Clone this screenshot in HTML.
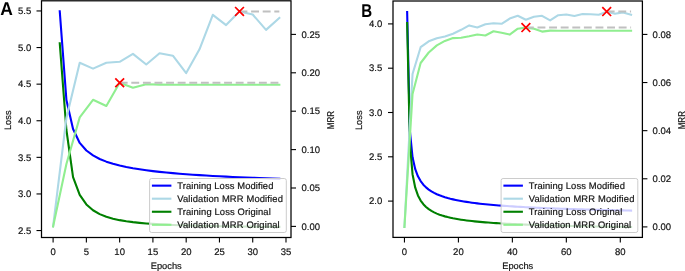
<!DOCTYPE html>
<html><head><meta charset="utf-8"><style>
html,body{margin:0;padding:0;background:#fff;width:685px;height:271px;overflow:hidden}
svg{display:block;will-change:transform;text-rendering:geometricPrecision}
</style></head><body>
<svg width="685" height="271" viewBox="0 0 685 271">
<rect width="685" height="271" fill="#fff"/>
<clipPath id="clipA"><rect x="41.5" y="0.8" width="249.5" height="236.7"/></clipPath>
<g clip-path="url(#clipA)">
<polyline points="59.75,11.3 66.41,100 73.06,128.95 79.72,142.93 86.37,150.5 93.02,155.43 99.68,158.95 106.33,161.63 112.99,163.77 119.64,165.51 126.29,166.97 132.95,168.22 139.6,169.3 146.26,170.25 152.91,171.1 159.56,171.85 166.22,172.53 172.87,173.15 179.53,173.71 186.18,174.23 192.83,174.71 199.49,175.15 206.14,175.56 212.8,175.94 219.45,176.3 226.1,176.63 232.76,176.95 239.41,177.25 246.07,177.53 252.72,177.79 259.37,178.05 266.03,178.29 272.68,178.52 279.34,178.73" fill="none" stroke="#0000ff" stroke-width="2.1" stroke-linejoin="round" stroke-linecap="square" />
<polyline points="59.75,43.3 66.41,130 73.06,177.07 79.72,194.8 86.37,204.42 93.02,210.27 99.68,214.11 106.33,216.77 112.99,218.71 119.64,220.16 126.29,221.27 132.95,222.15 139.6,222.86 146.26,223.44 152.91,223.92 159.56,224.32 166.22,224.66 172.87,224.95 179.53,225.21 186.18,225.42 192.83,225.62 199.49,225.78 206.14,225.93 212.8,226.07 219.45,226.18 226.1,226.29 232.76,226.39 239.41,226.47 246.07,226.55 252.72,226.62 259.37,226.69 266.03,226.75 272.68,226.81 279.34,226.86" fill="none" stroke="#008000" stroke-width="2.1" stroke-linejoin="round" stroke-linecap="square" />
<polyline points="53.1,226.4 66.41,118 79.72,62.8 93.02,68.6 106.33,62.7 119.64,61.8 132.95,53.9 146.26,64.5 159.56,53.2 172.87,55.7 186.18,73.1 199.49,49.3 212.8,14.8 226.1,25.1 239.41,11.4 252.72,14.5 266.03,29.9 279.34,18" fill="none" stroke="#add8e6" stroke-width="2.1" stroke-linejoin="round" stroke-linecap="square" />
<line x1="239.5" y1="11.4" x2="279.34" y2="11.4" stroke="#c0c0c0" stroke-width="2.0" stroke-dasharray="7.9 3.7"/>
<polyline points="53.1,226.4 66.41,164 79.72,117.4 93.02,99.8 106.33,106 119.64,82.7 132.95,87.7 146.26,84.3 159.56,84.6 172.87,84.8 186.18,84.8 199.49,84.8 212.8,84.8 226.1,84.8 239.41,84.8 252.72,84.8 266.03,84.8 279.34,84.8" fill="none" stroke="#90ee90" stroke-width="2.1" stroke-linejoin="round" stroke-linecap="square" />
<line x1="119.7" y1="82.7" x2="279.34" y2="82.7" stroke="#c0c0c0" stroke-width="2.0" stroke-dasharray="7.9 3.7"/>
<path d="M235.1,7L243.9,15.8M235.1,15.8L243.9,7" stroke="#ff0000" stroke-width="1.75" fill="none"/>
<path d="M115.3,78.3L124.1,87.1M115.3,87.1L124.1,78.3" stroke="#ff0000" stroke-width="1.75" fill="none"/>
</g>
<rect x="149.6" y="178.5" width="136.7" height="54.0" rx="2" ry="2" fill="#ffffff" fill-opacity="0.8" stroke="#cccccc" stroke-width="1"/>
<line x1="151.9" y1="185.65" x2="171.4" y2="185.65" stroke="#0000ff" stroke-width="2.1"/>
<text x="177.2" y="188.75" font-family="Liberation Sans, sans-serif" stroke="#111" stroke-width="0.18" font-size="9.4" fill="#111" textLength="96.2">Training Loss Modified</text>
<line x1="151.9" y1="198.7" x2="171.4" y2="198.7" stroke="#add8e6" stroke-width="2.1"/>
<text x="177.2" y="201.8" font-family="Liberation Sans, sans-serif" stroke="#111" stroke-width="0.18" font-size="9.4" fill="#111" textLength="105.7">Validation MRR Modified</text>
<line x1="151.9" y1="211.75" x2="171.4" y2="211.75" stroke="#008000" stroke-width="2.1"/>
<text x="177.2" y="214.85" font-family="Liberation Sans, sans-serif" stroke="#111" stroke-width="0.18" font-size="9.4" fill="#111" textLength="93.6">Training Loss Original</text>
<line x1="151.9" y1="224.8" x2="171.4" y2="224.8" stroke="#90ee90" stroke-width="2.1"/>
<text x="177.2" y="227.9" font-family="Liberation Sans, sans-serif" stroke="#111" stroke-width="0.18" font-size="9.4" fill="#111" textLength="102.5">Validation MRR Original</text>
<rect x="41.5" y="0.8" width="249.5" height="236.7" fill="none" stroke="#000" stroke-width="1.25"/>
<line x1="36.5" y1="230.55" x2="41.5" y2="230.55" stroke="#000" stroke-width="1.1"/>
<text x="31.2" y="233.8" font-family="Liberation Sans, sans-serif" stroke="#111" stroke-width="0.18" font-size="9.5" fill="#111" text-anchor="end">2.5</text>
<line x1="36.5" y1="193.95" x2="41.5" y2="193.95" stroke="#000" stroke-width="1.1"/>
<text x="31.2" y="197.2" font-family="Liberation Sans, sans-serif" stroke="#111" stroke-width="0.18" font-size="9.5" fill="#111" text-anchor="end">3.0</text>
<line x1="36.5" y1="157.35" x2="41.5" y2="157.35" stroke="#000" stroke-width="1.1"/>
<text x="31.2" y="160.6" font-family="Liberation Sans, sans-serif" stroke="#111" stroke-width="0.18" font-size="9.5" fill="#111" text-anchor="end">3.5</text>
<line x1="36.5" y1="120.75" x2="41.5" y2="120.75" stroke="#000" stroke-width="1.1"/>
<text x="31.2" y="124" font-family="Liberation Sans, sans-serif" stroke="#111" stroke-width="0.18" font-size="9.5" fill="#111" text-anchor="end">4.0</text>
<line x1="36.5" y1="84.15" x2="41.5" y2="84.15" stroke="#000" stroke-width="1.1"/>
<text x="31.2" y="87.4" font-family="Liberation Sans, sans-serif" stroke="#111" stroke-width="0.18" font-size="9.5" fill="#111" text-anchor="end">4.5</text>
<line x1="36.5" y1="47.55" x2="41.5" y2="47.55" stroke="#000" stroke-width="1.1"/>
<text x="31.2" y="50.8" font-family="Liberation Sans, sans-serif" stroke="#111" stroke-width="0.18" font-size="9.5" fill="#111" text-anchor="end">5.0</text>
<line x1="36.5" y1="10.95" x2="41.5" y2="10.95" stroke="#000" stroke-width="1.1"/>
<text x="31.2" y="14.2" font-family="Liberation Sans, sans-serif" stroke="#111" stroke-width="0.18" font-size="9.5" fill="#111" text-anchor="end">5.5</text>
<line x1="291.0" y1="226.4" x2="296" y2="226.4" stroke="#000" stroke-width="1.1"/>
<text x="301.5" y="229.65" font-family="Liberation Sans, sans-serif" stroke="#111" stroke-width="0.18" font-size="9.5" fill="#111">0.00</text>
<line x1="291.0" y1="188" x2="296" y2="188" stroke="#000" stroke-width="1.1"/>
<text x="301.5" y="191.25" font-family="Liberation Sans, sans-serif" stroke="#111" stroke-width="0.18" font-size="9.5" fill="#111">0.05</text>
<line x1="291.0" y1="149.6" x2="296" y2="149.6" stroke="#000" stroke-width="1.1"/>
<text x="301.5" y="152.85" font-family="Liberation Sans, sans-serif" stroke="#111" stroke-width="0.18" font-size="9.5" fill="#111">0.10</text>
<line x1="291.0" y1="111.2" x2="296" y2="111.2" stroke="#000" stroke-width="1.1"/>
<text x="301.5" y="114.45" font-family="Liberation Sans, sans-serif" stroke="#111" stroke-width="0.18" font-size="9.5" fill="#111">0.15</text>
<line x1="291.0" y1="72.8" x2="296" y2="72.8" stroke="#000" stroke-width="1.1"/>
<text x="301.5" y="76.05" font-family="Liberation Sans, sans-serif" stroke="#111" stroke-width="0.18" font-size="9.5" fill="#111">0.20</text>
<line x1="291.0" y1="34.4" x2="296" y2="34.4" stroke="#000" stroke-width="1.1"/>
<text x="301.5" y="37.65" font-family="Liberation Sans, sans-serif" stroke="#111" stroke-width="0.18" font-size="9.5" fill="#111">0.25</text>
<line x1="53.1" y1="237.5" x2="53.1" y2="242.5" stroke="#000" stroke-width="1.1"/>
<text x="53.1" y="254.6" font-family="Liberation Sans, sans-serif" stroke="#111" stroke-width="0.18" font-size="9.5" fill="#111" text-anchor="middle">0</text>
<line x1="86.37" y1="237.5" x2="86.37" y2="242.5" stroke="#000" stroke-width="1.1"/>
<text x="86.37" y="254.6" font-family="Liberation Sans, sans-serif" stroke="#111" stroke-width="0.18" font-size="9.5" fill="#111" text-anchor="middle">5</text>
<line x1="119.64" y1="237.5" x2="119.64" y2="242.5" stroke="#000" stroke-width="1.1"/>
<text x="119.64" y="254.6" font-family="Liberation Sans, sans-serif" stroke="#111" stroke-width="0.18" font-size="9.5" fill="#111" text-anchor="middle">10</text>
<line x1="152.91" y1="237.5" x2="152.91" y2="242.5" stroke="#000" stroke-width="1.1"/>
<text x="152.91" y="254.6" font-family="Liberation Sans, sans-serif" stroke="#111" stroke-width="0.18" font-size="9.5" fill="#111" text-anchor="middle">15</text>
<line x1="186.18" y1="237.5" x2="186.18" y2="242.5" stroke="#000" stroke-width="1.1"/>
<text x="186.18" y="254.6" font-family="Liberation Sans, sans-serif" stroke="#111" stroke-width="0.18" font-size="9.5" fill="#111" text-anchor="middle">20</text>
<line x1="219.45" y1="237.5" x2="219.45" y2="242.5" stroke="#000" stroke-width="1.1"/>
<text x="219.45" y="254.6" font-family="Liberation Sans, sans-serif" stroke="#111" stroke-width="0.18" font-size="9.5" fill="#111" text-anchor="middle">25</text>
<line x1="252.72" y1="237.5" x2="252.72" y2="242.5" stroke="#000" stroke-width="1.1"/>
<text x="252.72" y="254.6" font-family="Liberation Sans, sans-serif" stroke="#111" stroke-width="0.18" font-size="9.5" fill="#111" text-anchor="middle">30</text>
<line x1="285.99" y1="237.5" x2="285.99" y2="242.5" stroke="#000" stroke-width="1.1"/>
<text x="285.99" y="254.6" font-family="Liberation Sans, sans-serif" stroke="#111" stroke-width="0.18" font-size="9.5" fill="#111" text-anchor="middle">35</text>
<text x="166.25" y="268.6" font-family="Liberation Sans, sans-serif" stroke="#111" stroke-width="0.18" font-size="9.3" fill="#111" text-anchor="middle">Epochs</text>
<text transform="translate(10.5,120.25) rotate(-90)" font-family="Liberation Sans, sans-serif" stroke="#111" stroke-width="0.18" font-size="9.3" fill="#111" text-anchor="middle">Loss</text>
<text transform="translate(334.3,120.15) rotate(-90)" font-family="Liberation Sans, sans-serif" stroke="#111" stroke-width="0.18" font-size="9.9" fill="#111" text-anchor="middle" textLength="18.2" lengthAdjust="spacingAndGlyphs">MRR</text>
<text x="0.2" y="14.8" font-family="Liberation Sans, sans-serif" font-weight="bold" font-size="18.5" fill="#000" textLength="12.6" lengthAdjust="spacingAndGlyphs">A</text>
<clipPath id="clipB"><rect x="393.0" y="1.0" width="249.39999999999998" height="236.4"/></clipPath>
<g clip-path="url(#clipB)">
<polyline points="407.15,12 409.85,130.48 412.54,157.27 415.24,169.21 417.94,176.3 420.64,181.11 423.34,184.65 426.03,187.38 428.73,189.57 431.43,191.38 434.13,192.9 436.83,194.2 439.52,195.34 442.22,196.33 444.92,197.22 447.62,198.01 450.32,198.73 453.01,199.38 455.71,199.97 458.41,200.52 461.11,201.02 463.81,201.48 466.5,201.91 469.2,202.32 471.9,202.69 474.6,203.04 477.3,203.38 479.99,203.69 482.69,203.98 485.39,204.26 488.09,204.53 490.79,204.78 493.48,205.02 496.18,205.25 498.88,205.46 501.58,205.67 504.28,205.87 506.97,206.06 509.67,206.24 512.37,206.42 515.07,206.59 517.77,206.75 520.46,206.91 523.16,207.06 525.86,207.2 528.56,207.34 531.26,207.48 533.95,207.61 536.65,207.73 539.35,207.86 542.05,207.98 544.75,208.09 547.44,208.2 550.14,208.31 552.84,208.42 555.54,208.52 558.24,208.62 560.93,208.72 563.63,208.81 566.33,208.9 569.03,208.99 571.73,209.08 574.42,209.16 577.12,209.25 579.82,209.33 582.52,209.41 585.22,209.48 587.91,209.56 590.61,209.63 593.31,209.7 596.01,209.78 598.71,209.84 601.4,209.91 604.1,209.98 606.8,210.04 609.5,210.1 612.2,210.17 614.89,210.23 617.59,210.29 620.29,210.34 622.99,210.4 625.69,210.46 628.38,210.51 631.08,210.57" fill="none" stroke="#0000ff" stroke-width="2.1" stroke-linejoin="round" stroke-linecap="square" />
<polyline points="407.15,23 409.85,143.01 412.54,174.2 415.24,187.72 417.94,195.47 420.64,200.59 423.34,204.24 426.03,207 428.73,209.17 431.43,210.92 434.13,212.38 436.83,213.61 439.52,214.66 442.22,215.57 444.92,216.37 447.62,217.08 450.32,217.71 453.01,218.28 455.71,218.79 458.41,219.26 461.11,219.68 463.81,220.08 466.5,220.44 469.2,220.77 471.9,221.08 474.6,221.37 477.3,221.64 479.99,221.89 482.69,222.13 485.39,222.35 488.09,222.56 490.79,222.76 493.48,222.95 496.18,223.12 498.88,223.29 501.58,223.45 504.28,223.61 506.97,223.75 509.67,223.89 512.37,224.02 515.07,224.15 517.77,224.27 520.46,224.39 523.16,224.5 525.86,224.61 528.56,224.71 531.26,224.81 533.95,224.91 536.65,225 539.35,225.09 542.05,225.18 544.75,225.26 547.44,225.34 550.14,225.42 552.84,225.49 555.54,225.56 558.24,225.64 560.93,225.7 563.63,225.77 566.33,225.84 569.03,225.9 571.73,225.96 574.42,226.02 577.12,226.08 579.82,226.13 582.52,226.19 585.22,226.24 587.91,226.29 590.61,226.34 593.31,226.39 596.01,226.44 598.71,226.49 601.4,226.53 604.1,226.58 606.8,226.62 609.5,226.66 612.2,226.7 614.89,226.74 617.59,226.78 620.29,226.82 622.99,226.86 625.69,226.9 628.38,226.94 631.08,226.97" fill="none" stroke="#008000" stroke-width="2.1" stroke-linejoin="round" stroke-linecap="square" />
<polyline points="404.45,226.9 412.54,74 420.64,47.2 428.73,41.3 436.83,38.3 444.92,36.5 453.01,33.8 461.11,29.8 469.2,25.4 477.3,27.4 485.39,24.2 493.48,23.2 501.58,23.8 509.67,18.6 517.77,15.8 525.86,19.7 533.95,16.8 542.05,15.8 550.14,20.4 558.24,15.2 566.33,14.5 574.42,16 582.52,14 590.61,14.3 598.71,14.7 606.8,11.7 614.89,13.8 622.99,12.4 631.08,14.8" fill="none" stroke="#add8e6" stroke-width="2.1" stroke-linejoin="round" stroke-linecap="square" />
<line x1="606.7" y1="11.6" x2="631.08" y2="11.6" stroke="#c0c0c0" stroke-width="2.0" stroke-dasharray="7.9 3.7"/>
<polyline points="404.45,226.9 412.54,94 420.64,63 428.73,52.5 436.83,45.4 444.92,40.9 453.01,38.1 461.11,37.7 469.2,36.3 477.3,34.5 485.39,35.5 493.48,31.3 501.58,32.8 509.67,34.6 517.77,28.7 525.86,27.6 533.95,28.8 542.05,31.6 550.14,30.6 558.24,30.7 566.33,30.7 574.42,30.7 582.52,30.7 590.61,30.7 598.71,30.7 606.8,30.7 614.89,30.7 622.99,30.7 631.08,30.7" fill="none" stroke="#90ee90" stroke-width="2.1" stroke-linejoin="round" stroke-linecap="square" />
<line x1="525.9" y1="27.6" x2="631.08" y2="27.6" stroke="#c0c0c0" stroke-width="2.0" stroke-dasharray="7.9 3.7"/>
<path d="M602.3,7.2L611.1,16M602.3,16L611.1,7.2" stroke="#ff0000" stroke-width="1.75" fill="none"/>
<path d="M521.5,23.2L530.3,32M521.5,32L530.3,23.2" stroke="#ff0000" stroke-width="1.75" fill="none"/>
</g>
<rect x="501.1" y="178.5" width="136.7" height="54.0" rx="2" ry="2" fill="#ffffff" fill-opacity="0.8" stroke="#cccccc" stroke-width="1"/>
<line x1="503.4" y1="185.65" x2="522.9" y2="185.65" stroke="#0000ff" stroke-width="2.1"/>
<text x="528.7" y="188.75" font-family="Liberation Sans, sans-serif" stroke="#111" stroke-width="0.18" font-size="9.4" fill="#111" textLength="96.2">Training Loss Modified</text>
<line x1="503.4" y1="198.7" x2="522.9" y2="198.7" stroke="#add8e6" stroke-width="2.1"/>
<text x="528.7" y="201.8" font-family="Liberation Sans, sans-serif" stroke="#111" stroke-width="0.18" font-size="9.4" fill="#111" textLength="105.7">Validation MRR Modified</text>
<line x1="503.4" y1="211.75" x2="522.9" y2="211.75" stroke="#008000" stroke-width="2.1"/>
<text x="528.7" y="214.85" font-family="Liberation Sans, sans-serif" stroke="#111" stroke-width="0.18" font-size="9.4" fill="#111" textLength="93.6">Training Loss Original</text>
<line x1="503.4" y1="224.8" x2="522.9" y2="224.8" stroke="#90ee90" stroke-width="2.1"/>
<text x="528.7" y="227.9" font-family="Liberation Sans, sans-serif" stroke="#111" stroke-width="0.18" font-size="9.4" fill="#111" textLength="102.5">Validation MRR Original</text>
<rect x="393.0" y="1.0" width="249.4" height="236.4" fill="none" stroke="#000" stroke-width="1.25"/>
<line x1="388" y1="201.1" x2="393.0" y2="201.1" stroke="#000" stroke-width="1.1"/>
<text x="382.3" y="204.35" font-family="Liberation Sans, sans-serif" stroke="#111" stroke-width="0.18" font-size="9.5" fill="#111" text-anchor="end">2.0</text>
<line x1="388" y1="156.8" x2="393.0" y2="156.8" stroke="#000" stroke-width="1.1"/>
<text x="382.3" y="160.05" font-family="Liberation Sans, sans-serif" stroke="#111" stroke-width="0.18" font-size="9.5" fill="#111" text-anchor="end">2.5</text>
<line x1="388" y1="112.5" x2="393.0" y2="112.5" stroke="#000" stroke-width="1.1"/>
<text x="382.3" y="115.75" font-family="Liberation Sans, sans-serif" stroke="#111" stroke-width="0.18" font-size="9.5" fill="#111" text-anchor="end">3.0</text>
<line x1="388" y1="68.2" x2="393.0" y2="68.2" stroke="#000" stroke-width="1.1"/>
<text x="382.3" y="71.45" font-family="Liberation Sans, sans-serif" stroke="#111" stroke-width="0.18" font-size="9.5" fill="#111" text-anchor="end">3.5</text>
<line x1="388" y1="23.9" x2="393.0" y2="23.9" stroke="#000" stroke-width="1.1"/>
<text x="382.3" y="27.15" font-family="Liberation Sans, sans-serif" stroke="#111" stroke-width="0.18" font-size="9.5" fill="#111" text-anchor="end">4.0</text>
<line x1="642.4" y1="226.9" x2="647.4" y2="226.9" stroke="#000" stroke-width="1.1"/>
<text x="652.6" y="230.15" font-family="Liberation Sans, sans-serif" stroke="#111" stroke-width="0.18" font-size="9.5" fill="#111">0.00</text>
<line x1="642.4" y1="178.78" x2="647.4" y2="178.78" stroke="#000" stroke-width="1.1"/>
<text x="652.6" y="182.03" font-family="Liberation Sans, sans-serif" stroke="#111" stroke-width="0.18" font-size="9.5" fill="#111">0.02</text>
<line x1="642.4" y1="130.66" x2="647.4" y2="130.66" stroke="#000" stroke-width="1.1"/>
<text x="652.6" y="133.91" font-family="Liberation Sans, sans-serif" stroke="#111" stroke-width="0.18" font-size="9.5" fill="#111">0.04</text>
<line x1="642.4" y1="82.54" x2="647.4" y2="82.54" stroke="#000" stroke-width="1.1"/>
<text x="652.6" y="85.79" font-family="Liberation Sans, sans-serif" stroke="#111" stroke-width="0.18" font-size="9.5" fill="#111">0.06</text>
<line x1="642.4" y1="34.42" x2="647.4" y2="34.42" stroke="#000" stroke-width="1.1"/>
<text x="652.6" y="37.67" font-family="Liberation Sans, sans-serif" stroke="#111" stroke-width="0.18" font-size="9.5" fill="#111">0.08</text>
<line x1="404.45" y1="237.4" x2="404.45" y2="242.4" stroke="#000" stroke-width="1.1"/>
<text x="404.45" y="254.6" font-family="Liberation Sans, sans-serif" stroke="#111" stroke-width="0.18" font-size="9.5" fill="#111" text-anchor="middle">0</text>
<line x1="458.41" y1="237.4" x2="458.41" y2="242.4" stroke="#000" stroke-width="1.1"/>
<text x="458.41" y="254.6" font-family="Liberation Sans, sans-serif" stroke="#111" stroke-width="0.18" font-size="9.5" fill="#111" text-anchor="middle">20</text>
<line x1="512.37" y1="237.4" x2="512.37" y2="242.4" stroke="#000" stroke-width="1.1"/>
<text x="512.37" y="254.6" font-family="Liberation Sans, sans-serif" stroke="#111" stroke-width="0.18" font-size="9.5" fill="#111" text-anchor="middle">40</text>
<line x1="566.33" y1="237.4" x2="566.33" y2="242.4" stroke="#000" stroke-width="1.1"/>
<text x="566.33" y="254.6" font-family="Liberation Sans, sans-serif" stroke="#111" stroke-width="0.18" font-size="9.5" fill="#111" text-anchor="middle">60</text>
<line x1="620.29" y1="237.4" x2="620.29" y2="242.4" stroke="#000" stroke-width="1.1"/>
<text x="620.29" y="254.6" font-family="Liberation Sans, sans-serif" stroke="#111" stroke-width="0.18" font-size="9.5" fill="#111" text-anchor="middle">80</text>
<text x="517.7" y="268.6" font-family="Liberation Sans, sans-serif" stroke="#111" stroke-width="0.18" font-size="9.3" fill="#111" text-anchor="middle">Epochs</text>
<text transform="translate(361.6,120.3) rotate(-90)" font-family="Liberation Sans, sans-serif" stroke="#111" stroke-width="0.18" font-size="9.3" fill="#111" text-anchor="middle">Loss</text>
<text transform="translate(685,120.2) rotate(-90)" font-family="Liberation Sans, sans-serif" stroke="#111" stroke-width="0.18" font-size="9.9" fill="#111" text-anchor="middle" textLength="18.2" lengthAdjust="spacingAndGlyphs">MRR</text>
<text x="361.3" y="16.6" font-family="Liberation Sans, sans-serif" font-weight="bold" font-size="18.5" fill="#000" textLength="10.9" lengthAdjust="spacingAndGlyphs">B</text>
</svg>
</body></html>
